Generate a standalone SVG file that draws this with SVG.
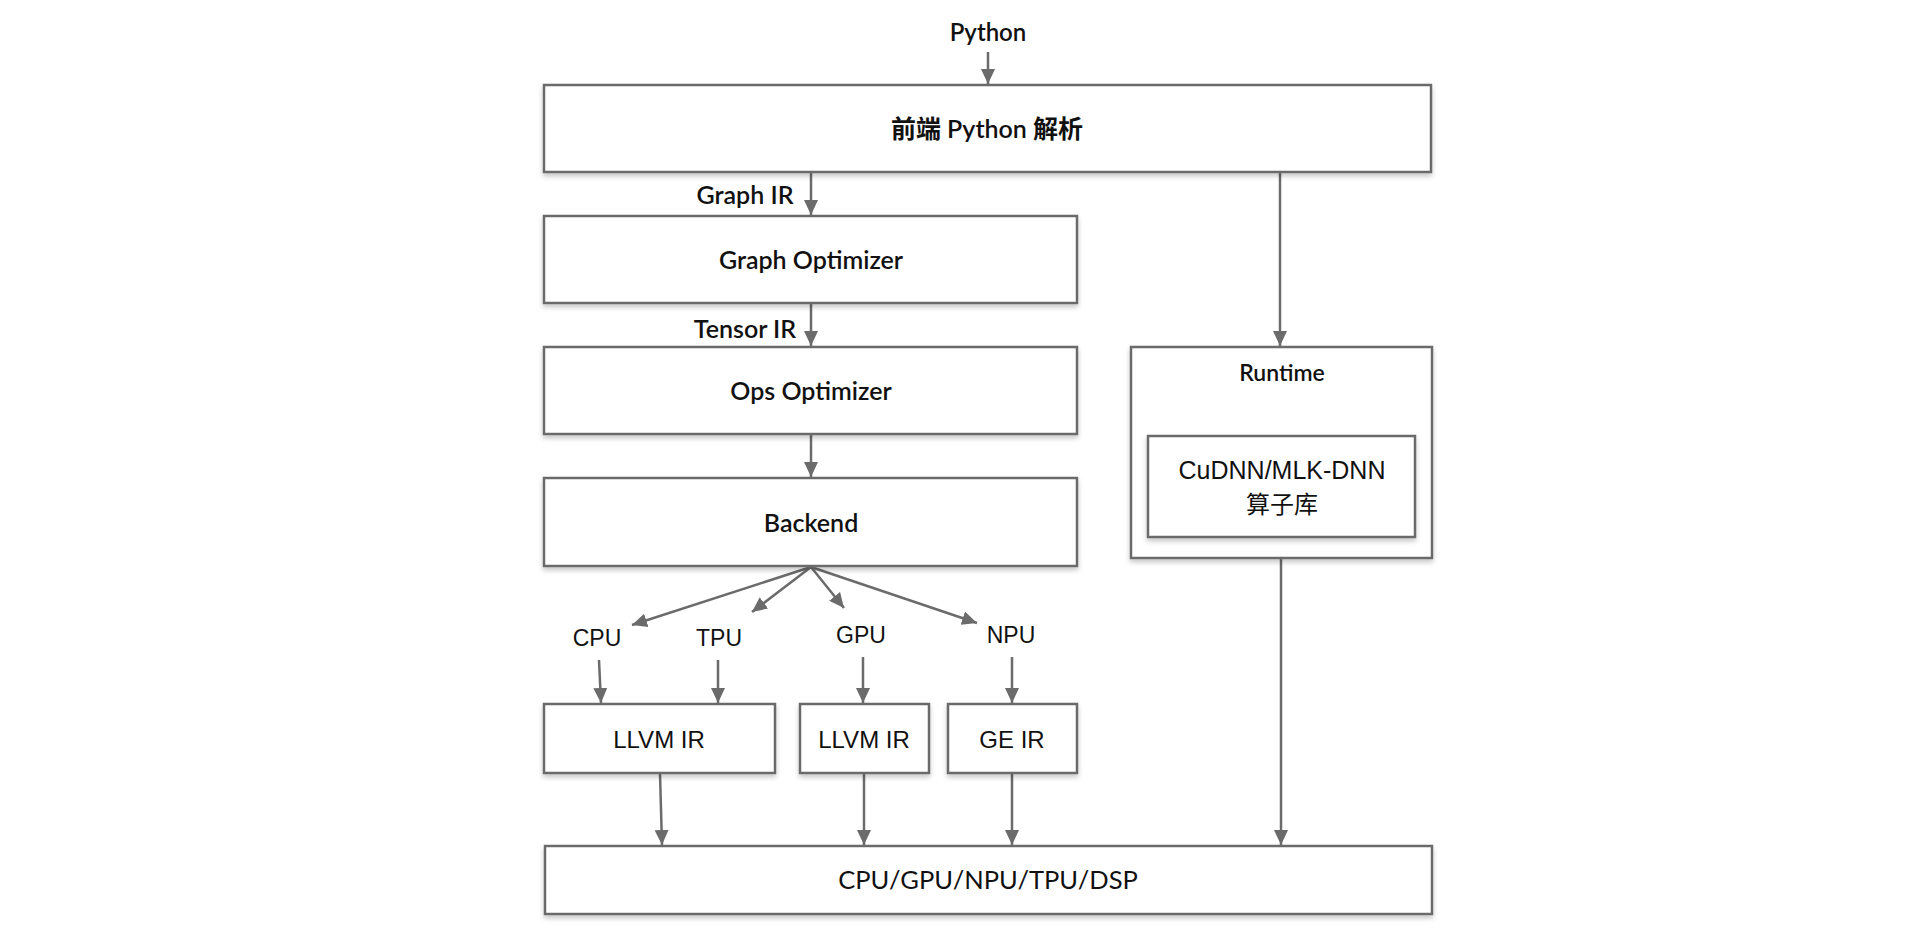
<svg xmlns="http://www.w3.org/2000/svg" width="1924" height="942" viewBox="0 0 1924 942">
<style>
.box{fill:#fff;stroke:#6b6b6b;stroke-width:2.5;filter:url(#sh)}
.conn{stroke:#6b6b6b;stroke-width:2.5;fill:none;marker-end:url(#ah)}
.f{font-family:Lato,"Liberation Sans","Noto Sans CJK SC",sans-serif;font-size:25px;font-weight:600;fill:#111;text-anchor:middle}
.h{font-family:"Liberation Sans","Noto Sans CJK SC",sans-serif;font-size:23px;fill:#111;text-anchor:middle}
</style>
<defs>
<filter id="sh" x="-5%" y="-20%" width="110%" height="150%">
<feDropShadow dx="0" dy="3" stdDeviation="2.5" flood-color="#000" flood-opacity="0.22"/>
</filter>
<marker id="ah" markerUnits="userSpaceOnUse" markerWidth="16" markerHeight="14" refX="15" refY="7" orient="auto">
<path d="M0,0 L15,7 L0,14 Z" fill="#6b6b6b"/>
</marker>
</defs>
<rect width="1924" height="942" fill="#fff"/>
<g id="connectors">
<line class="conn" x1="988" y1="52" x2="988" y2="84"/>
<line class="conn" x1="811" y1="172" x2="811" y2="215"/>
<line class="conn" x1="811" y1="303" x2="811" y2="346"/>
<line class="conn" x1="811" y1="434" x2="811" y2="477"/>
<line class="conn" x1="1280" y1="172" x2="1280" y2="346"/>
<line class="conn" x1="811" y1="567" x2="632" y2="625"/>
<line class="conn" x1="811" y1="567" x2="752" y2="612"/>
<line class="conn" x1="811" y1="567" x2="844" y2="608"/>
<line class="conn" x1="811" y1="567" x2="977" y2="623"/>
<line class="conn" x1="599" y1="660" x2="601" y2="703"/>
<line class="conn" x1="718" y1="660" x2="718" y2="703"/>
<line class="conn" x1="863" y1="657" x2="863" y2="703"/>
<line class="conn" x1="1012" y1="657" x2="1012" y2="703"/>
<line class="conn" x1="660" y1="774" x2="662" y2="845"/>
<line class="conn" x1="864" y1="774" x2="864" y2="845"/>
<line class="conn" x1="1012" y1="774" x2="1012" y2="845"/>
<line class="conn" x1="1281" y1="558" x2="1281" y2="845"/>
</g>
<g id="python-label"><text class="f" x="988" y="41" style="font-size:24px">Python</text></g>
<g id="frontend"><rect class="box" x="544" y="85" width="887" height="87"/><text class="f" x="987" y="138">前端 Python 解析</text></g>
<g id="graph-ir-label"><text class="f" x="745" y="204">Graph IR</text></g>
<g id="graph-optimizer"><rect class="box" x="544" y="216" width="533" height="87"/><text class="f" x="811" y="269">Graph Optimizer</text></g>
<g id="tensor-ir-label"><text class="f" x="745" y="338">Tensor IR</text></g>
<g id="ops-optimizer"><rect class="box" x="544" y="347" width="533" height="87"/><text class="f" x="811" y="400">Ops Optimizer</text></g>
<g id="backend"><rect class="box" x="544" y="478" width="533" height="88"/><text class="f" x="811" y="532">Backend</text></g>
<g id="runtime"><rect class="box" x="1131" y="347" width="301" height="211"/><text class="f" x="1282" y="381" style="font-size:23px">Runtime</text></g>
<g id="cudnn"><rect class="box" x="1148" y="436" width="267" height="101"/><text class="h" x="1282" y="479" style="font-size:25px">CuDNN/MLK-DNN</text><text class="h" x="1282" y="513" style="font-size:24px">算子库</text></g>
<g id="cpu-label"><text class="h" x="597" y="646">CPU</text></g>
<g id="tpu-label"><text class="h" x="719" y="646">TPU</text></g>
<g id="gpu-label"><text class="h" x="861" y="643">GPU</text></g>
<g id="npu-label"><text class="h" x="1011" y="643">NPU</text></g>
<g id="llvm1"><rect class="box" x="544" y="704" width="231" height="69"/><text class="h" x="659" y="748" style="font-size:24px">LLVM IR</text></g>
<g id="llvm2"><rect class="box" x="800" y="704" width="129" height="69"/><text class="h" x="864" y="748" style="font-size:24px">LLVM IR</text></g>
<g id="geir"><rect class="box" x="948" y="704" width="129" height="69"/><text class="h" x="1012" y="748" style="font-size:24px">GE IR</text></g>
<g id="hardware"><rect class="box" x="545" y="846" width="887" height="68"/><text class="f" x="988" y="889" style="font-weight:400;font-size:25.5px">CPU/GPU/NPU/TPU/DSP</text></g>
</svg>
